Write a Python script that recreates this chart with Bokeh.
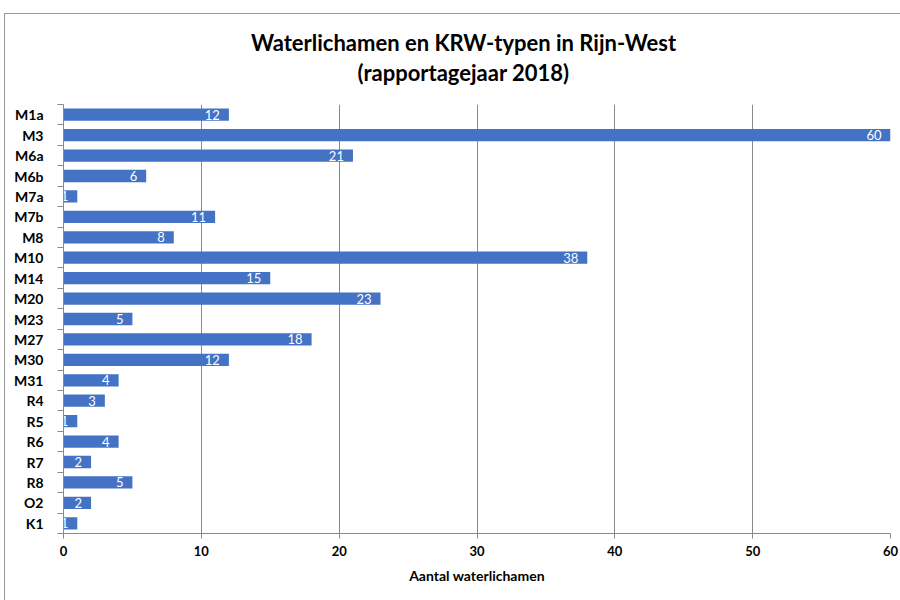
from bokeh.plotting import figure
from bokeh.layouts import column
from bokeh.models import FixedTicker, Range1d, ColumnDataSource
from bokeh.core.properties import value
from bokeh.embed import file_html
from bokeh.resources import INLINE

categories = ["M1a", "M3", "M6a", "M6b", "M7a", "M7b", "M8", "M10", "M14", "M20", "M23",
              "M27", "M30", "M31", "R4", "R5", "R6", "R7", "R8", "O2", "K1"]
values = [12, 60, 21, 6, 1, 11, 8, 38, 15, 23, 5, 18, 12, 4, 3, 1, 4, 2, 5, 2, 1]
x_ticks = [0, 10, 20, 30, 40, 50, 60]
title_lines = ["Waterlichamen en KRW-typen in Rijn-West", "(rapportagejaar 2018)"]
x_label = "Aantal waterlichamen"

FONT = "Lato"
W = 895

# ---- title panel: same horizontal layout as the chart, so x maps identically ----
t = figure(width=W, height=90, output_backend="svg", toolbar_location=None,
           x_range=Range1d(0, 60), y_range=Range1d(90, 0),
           min_border_left=58, min_border_right=10, min_border_top=0, min_border_bottom=0,
           frame_width=827, frame_height=90, x_axis_type=None, y_axis_type=None)
t.outline_line_color = None
t.grid.visible = False
t.border_fill_color = "white"
t.background_fill_color = "white"
tx = (463 - 63) / 827 * 60
t.text(x=[tx, tx], y=[28, 58], text=title_lines, text_align="center",
       text_baseline="middle", text_font=value(FONT), text_font_style="bold",
       text_font_size="22px", text_color="black")

# ---- bar chart ----
n = len(categories)
ys = [n - i - 0.5 for i in range(n)]
src = ColumnDataSource(dict(y=ys, v=values, t=[str(v) for v in values]))

p = figure(width=W, height=496, output_backend="svg", toolbar_location=None,
           x_range=Range1d(0, 60), y_range=Range1d(0, n),
           min_border_left=58, min_border_right=10, min_border_top=0, min_border_bottom=67,
           frame_width=827, frame_height=429)
p.outline_line_color = None
p.background_fill_color = "white"
p.border_fill_color = "white"

p.hbar(y="y", right="v", left=0, height=0.6, source=src, color="#4472C4", line_color=None)
p.text(x="v", y="y", text="t", source=src, text_align="right", text_baseline="middle",
       x_offset=-9, text_color="white", text_font_size="13px", text_font=value(FONT))

p.xaxis.ticker = FixedTicker(ticks=x_ticks)
p.xaxis.axis_line_color = "#8a8a8a"
p.xaxis.major_tick_line_color = "#8a8a8a"
p.xaxis.major_tick_out = 5
p.xaxis.major_tick_in = 0
p.xaxis.minor_tick_line_color = None
p.xaxis.major_label_text_font = FONT
p.xaxis.major_label_text_font_style = "bold"
p.xaxis.major_label_text_font_size = "13px"
p.xaxis.major_label_text_color = "black"
p.xaxis.major_label_standoff = 7
p.xaxis.axis_label = x_label
p.xaxis.axis_label_text_font = FONT
p.xaxis.axis_label_text_font_style = "bold"
p.xaxis.axis_label_text_font_size = "14px"
p.xaxis.axis_label_text_color = "black"
p.xaxis.axis_label_standoff = 8

p.yaxis.ticker = FixedTicker(ticks=ys, minor_ticks=list(range(n + 1)))
p.yaxis.major_label_overrides = {y: c for y, c in zip(ys, categories)}
p.yaxis.axis_line_color = "#8a8a8a"
p.yaxis.major_tick_line_color = None
p.yaxis.major_tick_out = 0
p.yaxis.major_tick_in = 0
p.yaxis.minor_tick_line_color = "#8a8a8a"
p.yaxis.minor_tick_out = 6
p.yaxis.minor_tick_in = 0
p.yaxis.major_label_standoff = 14
p.yaxis.major_label_text_font = FONT
p.yaxis.major_label_text_font_style = "bold"
p.yaxis.major_label_text_font_size = "14px"
p.yaxis.major_label_text_color = "black"

p.xgrid.ticker = FixedTicker(ticks=x_ticks[1:])
p.xgrid.grid_line_color = "#8a8a8a"
p.xgrid.grid_line_width = 1
p.ygrid.grid_line_color = None

layout = column(t, p, spacing=0,
                styles={"margin-left": "4px", "margin-top": "13px",
                        "border": "1px solid #9a9a9a", "background": "white"})

open("out.html", "w").write(file_html(layout, INLINE))
